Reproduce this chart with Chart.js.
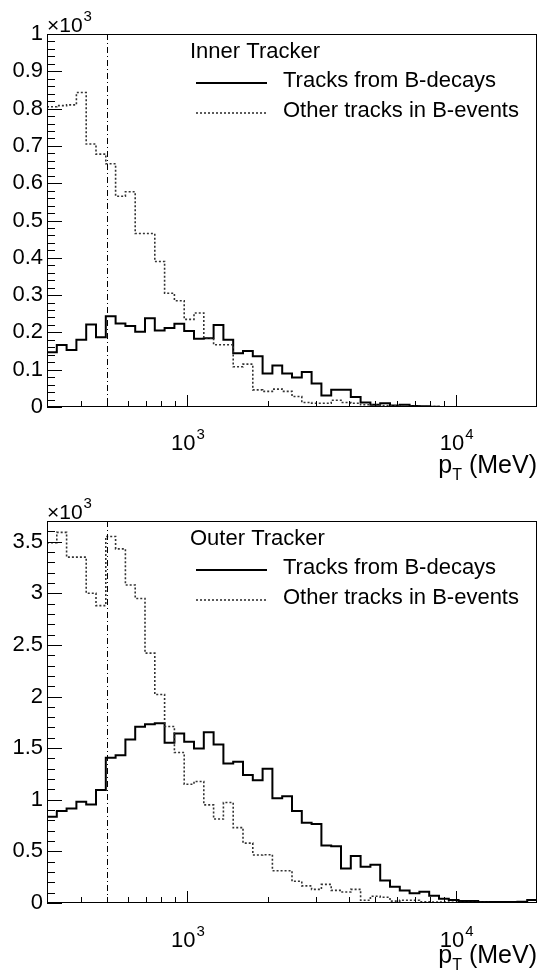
<!DOCTYPE html>
<html>
<head>
<meta charset="utf-8">
<script src="https://cdn.jsdelivr.net/npm/chart.js@4.4.0/dist/chart.umd.min.js"></script>
<style>
    html, body { margin: 0; padding: 0; background: #fff; }
    .panel { position: absolute; left: 0; width: 538px; }
    #innerBox { top: 0; height: 485px; }
    #outerBox { top: 485px; height: 486px; }
</style>
</head>
<body>
<div class="panel" id="innerBox"><canvas id="innerChart"></canvas></div>
<div class="panel" id="outerBox"><canvas id="outerChart"></canvas></div>
<script>
// Histogram binning: 50 log-spaced bins of pT (MeV)
const PT_MIN = 300;
const PT_MAX = 20000;
const N_BINS = 50;
const PT_CUT = 500; // dash-dot cut line

// Legend texts
const legendHeaders = ['Inner Tracker', 'Outer Tracker'];
const seriesNames = ['Tracks from B-decays', 'Other tracks in B-events'];

// Tick values / labels
const xMajorTicks = [1000, 10000];
const xMajorLabels = [['10', '3'], ['10', '4']];
const innerYTicks = [0, 100, 200, 300, 400, 500, 600, 700, 800, 900, 1000];
const outerYTicks = [0, 500, 1000, 1500, 2000, 2500, 3000, 3500];

// Bin contents (counts)
const innerFromB = [147, 166, 153, 180, 221, 187, 243, 224, 217, 202,
                    238, 205, 212, 223, 204, 183, 184, 220, 180, 144,
                    150, 136, 90, 111, 90, 79, 94, 63, 31, 46,
                    46, 27, 12, 6, 10, 4, 6, 3, 2, 1,
                    0, 0, 0, 0, 0, 0, 0, 0, 0, 0];
const innerOther = [805, 808, 810, 843, 705, 678, 652, 565, 577, 465,
                    465, 390, 305, 285, 235, 252, 185, 167, 167, 108,
                    115, 46, 42, 48, 42, 28, 12, 10, 10, 18,
                    12, 10, 6, 5, 4, 3, 2, 2, 1, 1,
                    0, 0, 0, 0, 0, 0, 0, 0, 0, 0];
const outerFromB = [835, 890, 916, 981, 955, 1094, 1406, 1432, 1584, 1706,
                    1732, 1742, 1552, 1642, 1561, 1497, 1655, 1535, 1352, 1368,
                    1239, 1190, 1300, 1015, 1035, 890, 777, 765, 556, 550,
                    334, 456, 352, 370, 218, 157, 122, 94, 108, 71,
                    42, 29, 20, 20, 10, 10, 10, 10, 12, 30];
const outerOther = [3490, 3590, 3350, 3350, 3000, 2880, 3550, 3430, 3080, 2950,
                    2420, 2020, 1710, 1457, 1150, 1177, 950, 813, 974, 730,
                    580, 465, 468, 313, 313, 210, 166, 132, 180, 122,
                    106, 132, 26, 65, 55, 18, 26, 27, 12, 10,
                    8, 6, 5, 5, 4, 3, 3, 2, 2, 2];

const FONT = '"Liberation Sans", Arial, Helvetica, sans-serif';

// bin edges of the log binning
const binEdges = [];
for (let i = 0; i <= N_BINS; i++) {
    binEdges.push(PT_MIN * Math.pow(PT_MAX / PT_MIN, i / N_BINS));
}

function histPoints(values) {
    const pts = values.map((v, i) => ({ x: binEdges[i], y: v }));
    pts.push({ x: binEdges[values.length], y: values[values.length - 1] });
    return pts;
}

// draws what ROOT adds around the frame: inward ticks, cut line, labels, legend
const rootStyle = {
    id: 'rootStyle',
    afterDatasetsDraw(chart, args, opts) {
        const { ctx, chartArea: a, scales: { x, y } } = chart;
        ctx.save();

        // dash-dot cut line
        const xc = Math.round(x.getPixelForValue(PT_CUT)) + 0.5;
        ctx.strokeStyle = '#000';
        ctx.lineWidth = 1;
        ctx.setLineDash([6, 3, 1, 3]);
        ctx.beginPath();
        ctx.moveTo(xc, a.top);
        ctx.lineTo(xc, a.bottom);
        ctx.stroke();
        ctx.setLineDash([]);

        // frame
        ctx.strokeStyle = '#000';
        ctx.lineWidth = 1;
        ctx.strokeRect(a.left + 0.5, a.top + 0.5, a.right - a.left - 1, a.bottom - a.top - 1);

        // y ticks (inward)
        ctx.beginPath();
        for (let v = 0; v <= opts.yMax + 0.001; v += opts.yMinor) {
            const isMajor = Math.abs(v / opts.yMajor - Math.round(v / opts.yMajor)) < 1e-6;
            const py = Math.round(y.getPixelForValue(v)) + 0.5;
            ctx.moveTo(a.left, py);
            ctx.lineTo(a.left + (isMajor ? 15 : 8), py);
        }
        // x ticks (inward)
        for (const decade of [100, 1000, 10000]) {
            for (let k = 1; k <= 9; k++) {
                const v = k * decade;
                if (v <= PT_MIN || v >= PT_MAX) continue;
                const px = Math.round(x.getPixelForValue(v)) + 0.5;
                ctx.moveTo(px, a.bottom);
                ctx.lineTo(px, a.bottom - (k === 1 ? 12 : 6));
            }
        }
        ctx.stroke();

        ctx.fillStyle = '#000';
        ctx.textBaseline = 'alphabetic';

        // x labels 10^n
        xMajorTicks.forEach((v, i) => {
            const [base, exp] = xMajorLabels[i];
            ctx.font = `22px ${FONT}`;
            const wb = ctx.measureText(base).width;
            ctx.font = `15px ${FONT}`;
            const we = ctx.measureText(exp).width;
            const x0 = x.getPixelForValue(v) - (wb + we) / 2;
            ctx.font = `22px ${FONT}`;
            ctx.fillText(base, x0, a.bottom + opts.xLabelDy);
            ctx.font = `15px ${FONT}`;
            ctx.fillText(exp, x0 + wb + 1, a.bottom + opts.xLabelDy - 11);
        });

        // axis title p_T (MeV)
        ctx.font = `25px ${FONT}`;
        const wp = ctx.measureText('p').width;
        const wr = ctx.measureText(' (MeV)').width;
        ctx.font = `16px ${FONT}`;
        const wt = ctx.measureText('T').width;
        const tx = a.right - (wp + wt + wr);
        const ty = a.bottom + opts.titleDy;
        ctx.font = `25px ${FONT}`;
        ctx.fillText('p', tx, ty);
        ctx.font = `16px ${FONT}`;
        ctx.fillText('T', tx + wp, ty + 7);
        ctx.font = `25px ${FONT}`;
        ctx.fillText(' (MeV)', tx + wp + wt, ty);

        // exponent of y axis
        ctx.font = `21px ${FONT}`;
        ctx.fillText('\u00d710', a.left, a.top - 2);
        const wx = ctx.measureText('\u00d710').width;
        ctx.font = `15px ${FONT}`;
        ctx.fillText('3', a.left + wx + 1, a.top - 13);

        // legend
        ctx.font = `22px ${FONT}`;
        ctx.textBaseline = 'middle';
        ctx.fillText(opts.header, a.left + 143, a.top + 18);
        const rows = [a.top + 46, a.top + 76];
        rows.forEach((ry, i) => {
            ctx.fillText(seriesNames[i], a.left + 236, ry + 1);
            ctx.beginPath();
            if (i === 0) {
                ctx.lineWidth = 2;
                ctx.strokeStyle = '#000';
                ctx.setLineDash([]);
            } else {
                ctx.lineWidth = 1.6;
                ctx.strokeStyle = '#333';
                ctx.setLineDash([2, 2]);
            }
            ctx.moveTo(a.left + 149, ry + 3);
            ctx.lineTo(a.left + 220, ry + 3);
            ctx.stroke();
        });
        ctx.restore();
    }
};

function makeChart(canvasId, fromB, other, cfg) {
    return new Chart(document.getElementById(canvasId), {
        type: 'line',
        data: {
            datasets: [
                {
                    label: seriesNames[1],
                    data: histPoints(other),
                    borderColor: '#333',
                    borderWidth: 1.6,
                    borderDash: [2, 2],
                    pointRadius: 0,
                    stepped: true,
                    fill: false
                },
                {
                    label: seriesNames[0],
                    data: histPoints(fromB),
                    borderColor: '#000',
                    borderWidth: 2,
                    pointRadius: 0,
                    stepped: true,
                    fill: false
                }
            ]
        },
        options: {
            responsive: true,
            maintainAspectRatio: false,
            animation: false,
            layout: { padding: { top: cfg.padTop, right: 1, left: 0, bottom: 0 } },
            plugins: {
                legend: { display: false },
                tooltip: { enabled: false },
                rootStyle: cfg
            },
            scales: {
                x: {
                    type: 'logarithmic',
                    min: PT_MIN,
                    max: PT_MAX,
                    ticks: { display: false },
                    grid: { display: false },
                    border: { display: false },
                    afterFit: s => { s.height = cfg.xAxisHeight; }
                },
                y: {
                    min: 0,
                    max: cfg.yMax,
                    afterBuildTicks: s => { s.ticks = cfg.yTicks.map(v => ({ value: v })); },
                    ticks: {
                        autoSkip: false,
                        padding: 4,
                        color: '#000',
                        font: { family: FONT, size: 22 },
                        callback: v => String(Math.round(v / 100) / 10)
                    },
                    grid: { display: false, drawTicks: false },
                    border: { display: false },
                    afterFit: s => { s.width = 47; }
                }
            }
        },
        plugins: [rootStyle]
    });
}

makeChart('innerChart', innerFromB, innerOther, {
    header: legendHeaders[0], yTicks: innerYTicks,
    padTop: 34, xAxisHeight: 78,
    yMax: 1000, yMajor: 100, yMinor: 20,
    xLabelDy: 43, titleDy: 66
});

makeChart('outerChart', outerFromB, outerOther, {
    header: legendHeaders[1], yTicks: outerYTicks,
    padTop: 36, xAxisHeight: 68,
    yMax: 3700, yMajor: 500, yMinor: 100,
    xLabelDy: 44, titleDy: 60
});
</script>
</body>
</html>
